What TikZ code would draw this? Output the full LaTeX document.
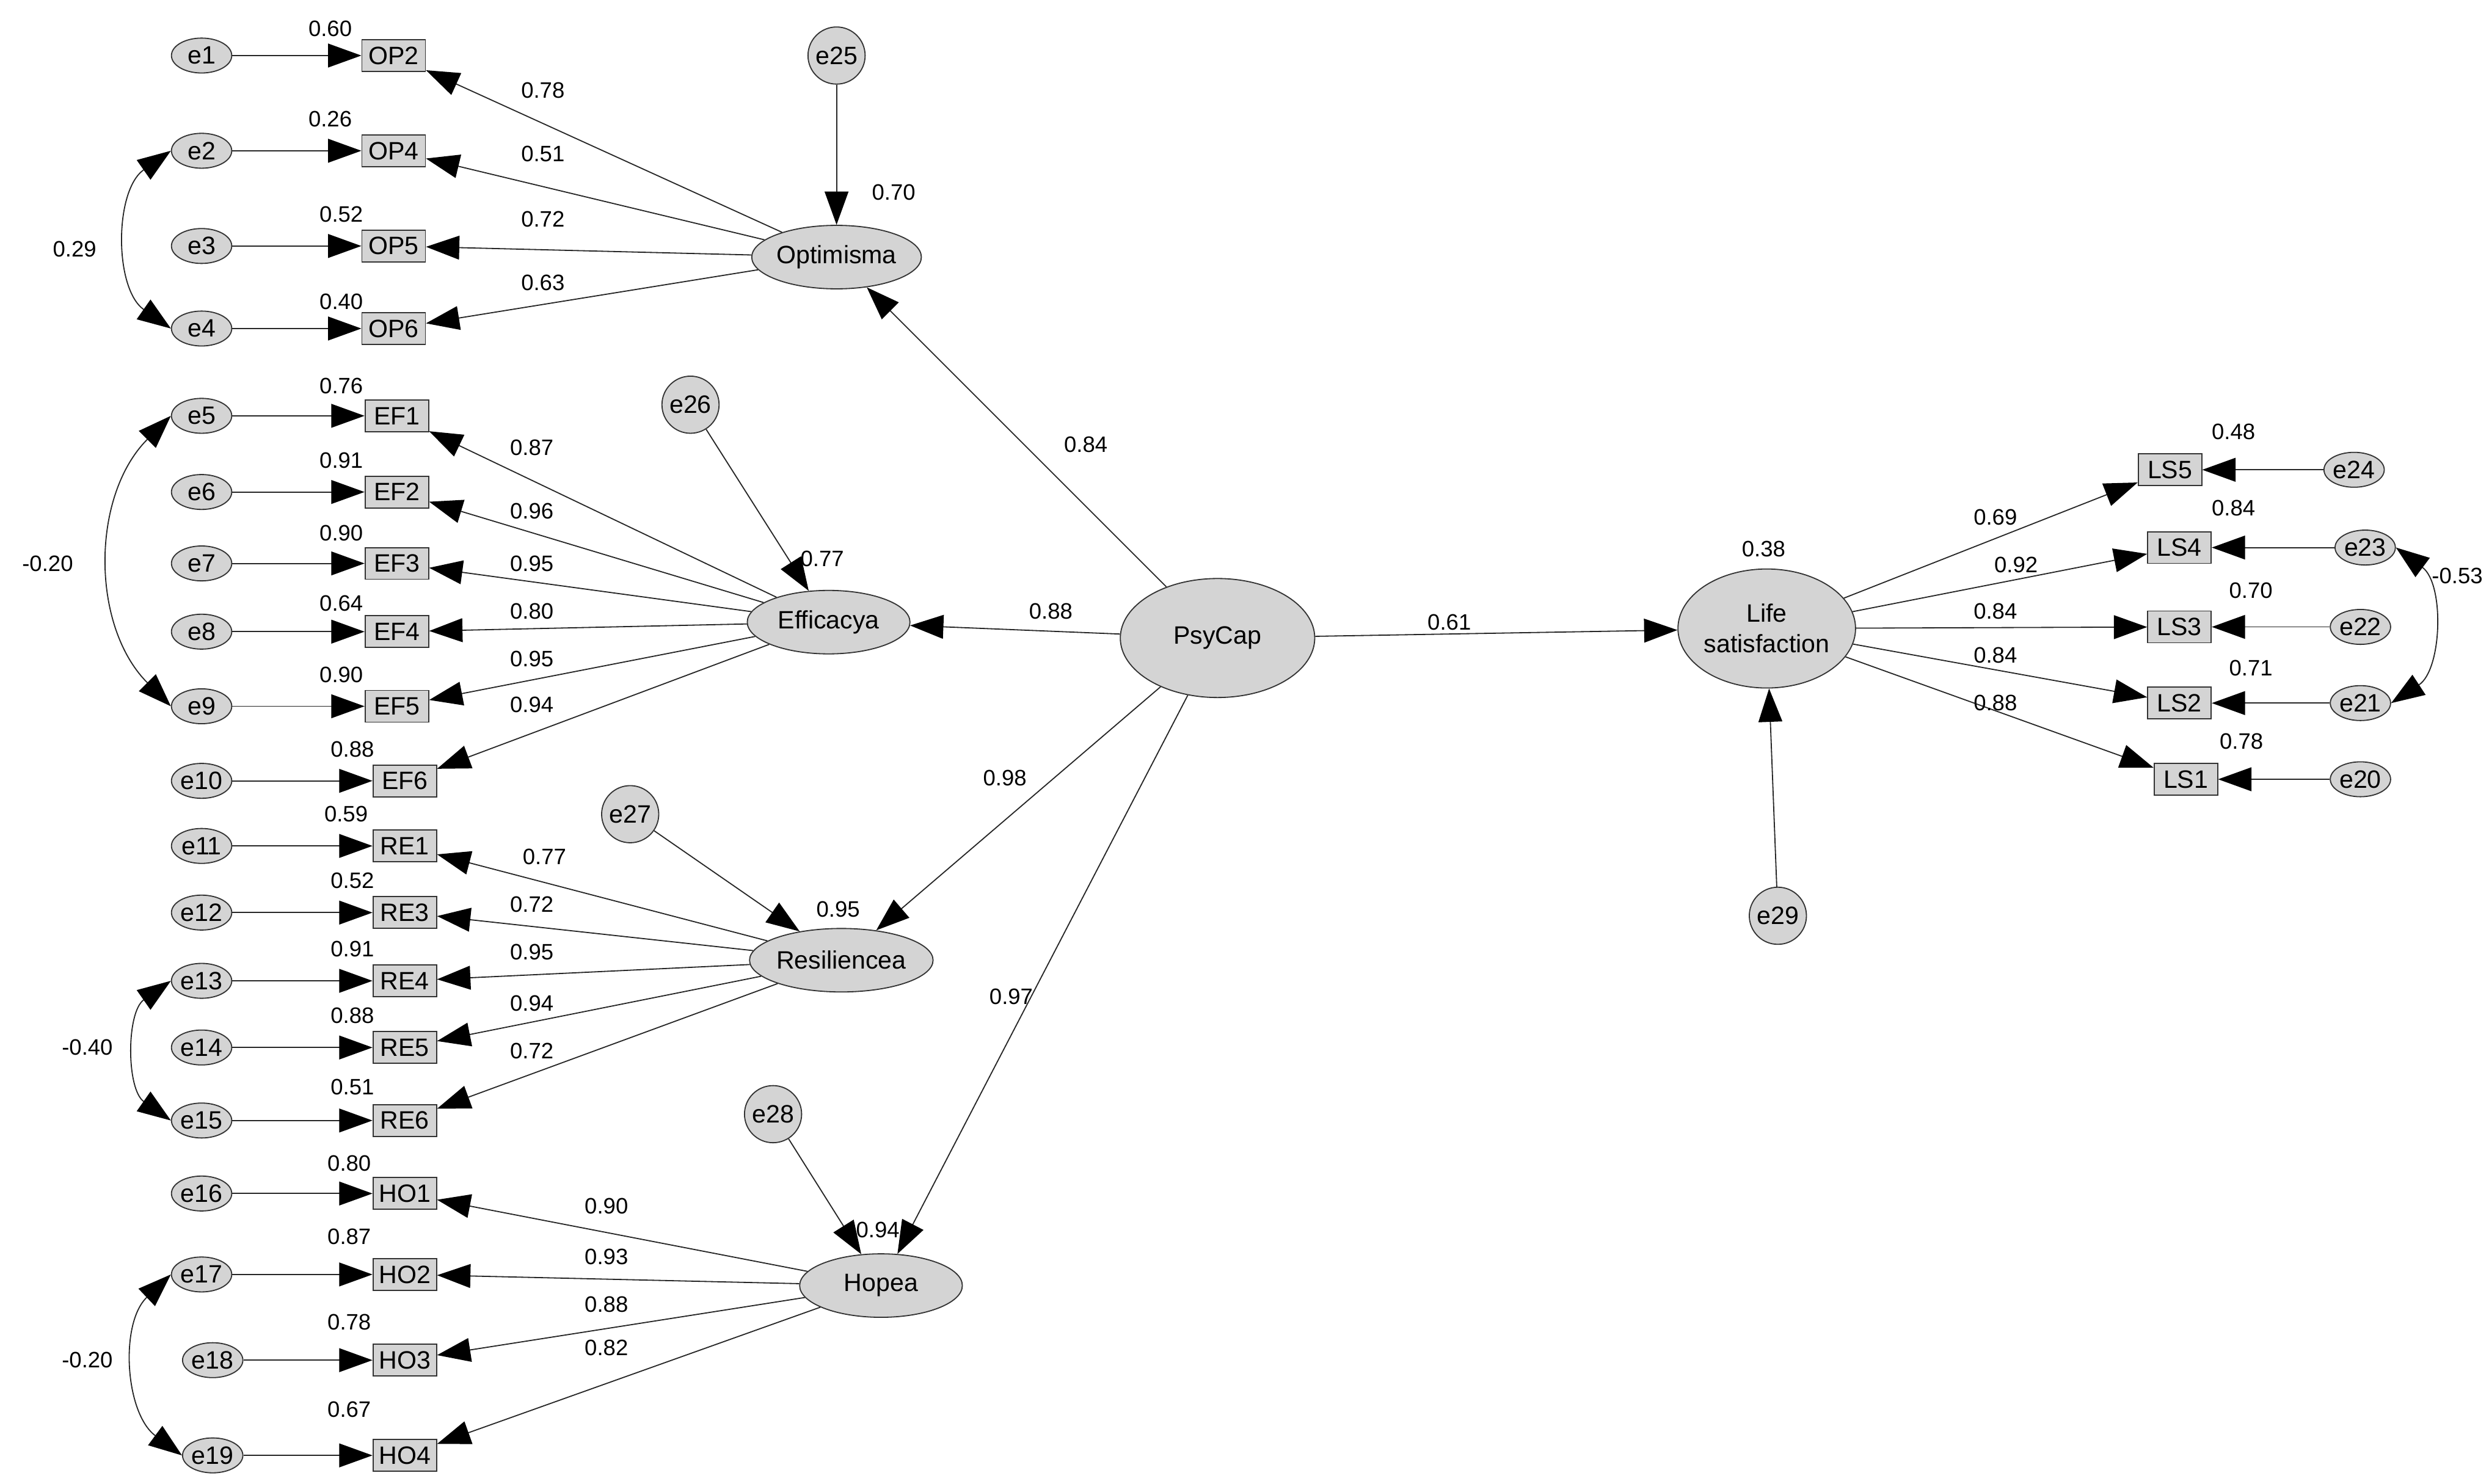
\documentclass[tikz,border=0pt]{standalone}
\usepackage{fontspec}
\setmainfont{Liberation Sans}
\usetikzlibrary{arrows.meta,shapes.geometric}
\tikzset{
  err/.style={ellipse,draw=black!80,fill=black!17,inner sep=0pt,minimum width=0.76cm,minimum height=0.44cm,font=\small},
  errc/.style={circle,draw=black!80,fill=black!17,inner sep=0pt,minimum size=0.72cm,font=\small},
  ind/.style={rectangle,draw=black!80,fill=black!17,inner sep=0pt,minimum width=0.8cm,minimum height=0.4cm,font=\small},
  lat/.style={ellipse,draw=black!80,fill=black!17,inner sep=0pt,minimum width=2.05cm,minimum height=0.8cm,font=\small},
  big/.style={ellipse,draw=black!80,fill=black!17,inner sep=0pt,minimum width=2.45cm,minimum height=1.5cm,font=\small,align=center},
  path/.style={draw=black!85,-{Triangle[length=0.42cm,width=0.3cm,color=black]}},
  cov/.style={draw=black!85,{Triangle[length=0.42cm,width=0.3cm,color=black]}-{Triangle[length=0.42cm,width=0.3cm,color=black]}},
  lbl/.style={font=\footnotesize,inner sep=1pt}
}
\begin{document}
\begin{tikzpicture}[x=0.02cm,y=-0.02cm]
  \useasboundingbox (0,0) rectangle (1568,935);
  % latent variables
  \node[lat] (opt) at (527,162) {Optimisma};
  \node[lat] (eff) at (522,392) {Efficacya};
  \node[lat] (res) at (530,605) {Resiliencea};
  \node[lat] (hop) at (555,810) {Hopea};
  \node[big] (psy) at (767,402) {PsyCap};
  \node[big,minimum width=2.2cm] (lif) at (1113,396) {Life\\satisfaction};
  % disturbances
  \node[errc] (e25) at (527,35) {e25};
  \node[errc] (e26) at (435,255) {e26};
  \node[errc] (e27) at (397,513) {e27};
  \node[errc] (e28) at (487,702) {e28};
  \node[errc] (e29) at (1120,577) {e29};
  \draw[path] (e25) -- (opt);
  \draw[path] (e26) -- (eff);
  \draw[path] (e27) -- (res);
  \draw[path] (e28) -- (hop);
  \draw[path] (e29) -- (lif);
  % left indicators: name/y/err/errx/indx/latent/loading/lx/ly/r2/rx/ry
  \foreach \n/\y/\e/\ex/\ix/\l/\ld/\lx/\ly/\r/\rx/\ry in {
      OP2/35/e1/127/248/opt/0.78/342/57/0.60/208/18,
      OP4/95/e2/127/248/opt/0.51/342/97/0.26/208/75,
      OP5/155/e3/127/248/opt/0.72/342/138/0.52/215/135,
      OP6/207/e4/127/248/opt/0.63/342/178/0.40/215/190,
      EF1/262/e5/127/250/eff/0.87/335/282/0.76/215/243,
      EF2/310/e6/127/250/eff/0.96/335/322/0.91/215/290,
      EF3/355/e7/127/250/eff/0.95/335/355/0.90/215/336,
      EF4/398/e8/127/250/eff/0.80/335/385/0.64/215/380,
      EF5/445/e9/127/250/eff/0.95/335/415/0.90/215/425,
      EF6/492/e10/127/255/eff/0.94/335/444/0.88/222/472,
      RE1/533/e11/127/255/res/0.77/343/540/0.59/218/513,
      RE3/575/e12/127/255/res/0.72/335/570/0.52/222/555,
      RE4/618/e13/127/255/res/0.95/335/600/0.91/222/598,
      RE5/660/e14/127/255/res/0.94/335/632/0.88/222/640,
      RE6/706/e15/127/255/res/0.72/335/662/0.51/222/685,
      HO1/752/e16/127/255/hop/0.90/382/760/0.80/220/733,
      HO2/803/e17/127/255/hop/0.93/382/792/0.87/220/779,
      HO3/857/e18/134/255/hop/0.88/382/822/0.78/220/833,
      HO4/917/e19/134/255/hop/0.82/382/849/0.67/220/888}{
    \node[ind] (\n) at (\ix,\y) {\n};
    \node[err] (\e) at (\ex,\y) {\e};
    \draw[path] (\e) -- (\n);
    \draw[path] (\l) -- (\n);
    \node[lbl] at (\lx,\ly) {\ld};
    \node[lbl] at (\rx,\ry) {\r};
  }
  % right indicators
  \foreach \n/\y/\e/\ex/\ix/\ld/\lx/\ly/\r/\rx/\ry in {
      LS5/296/e24/1483/1367/0.69/1257/326/0.48/1407/272,
      LS4/345/e23/1490/1373/0.92/1270/356/0.84/1407/320,
      LS3/395/e22/1487/1373/0.84/1257/385/0.70/1418/372,
      LS2/443/e21/1487/1373/0.84/1257/413/0.71/1418/421,
      LS1/491/e20/1487/1377/0.88/1257/443/0.78/1412/467}{
    \node[ind] (\n) at (\ix,\y) {\n};
    \node[err] (\e) at (\ex,\y) {\e};
    \draw[path] (\e) -- (\n);
    \draw[path] (lif) -- (\n);
    \node[lbl] at (\lx,\ly) {\ld};
    \node[lbl] at (\rx,\ry) {\r};
  }
  % structural paths
  \draw[path] (psy) -- (opt);
  \draw[path] (psy) -- (eff);
  \draw[path] (psy) -- (res);
  \draw[path] (psy) -- (hop);
  \draw[path] (psy) -- (lif);
  \node[lbl] at (563,121) {0.70};
  \node[lbl] at (518,352) {0.77};
  \node[lbl] at (528,573) {0.95};
  \node[lbl] at (553,775) {0.94};
  \node[lbl] at (684,280) {0.84};
  \node[lbl] at (662,385) {0.88};
  \node[lbl] at (633,490) {0.98};
  \node[lbl] at (637,628) {0.97};
  \node[lbl] at (913,392) {0.61};
  \node[lbl] at (1111,346) {0.38};
  % covariances
  \draw[cov] (e2.west) to[bend right=55] (e4.west);
  \draw[cov] (e5.west) to[bend right=45] (e9.west);
  \draw[cov] (e13.west) to[bend right=55] (e15.west);
  \draw[cov] (e17.west) to[bend right=50] (e19.west);
  \draw[cov] (e23.east) to[bend left=55] (e21.east);
  \node[lbl] at (47,157) {0.29};
  \node[lbl] at (30,355) {-0.20};
  \node[lbl] at (55,660) {-0.40};
  \node[lbl] at (55,857) {-0.20};
  \node[lbl] at (1548,363) {-0.53};
\end{tikzpicture}
\end{document}
